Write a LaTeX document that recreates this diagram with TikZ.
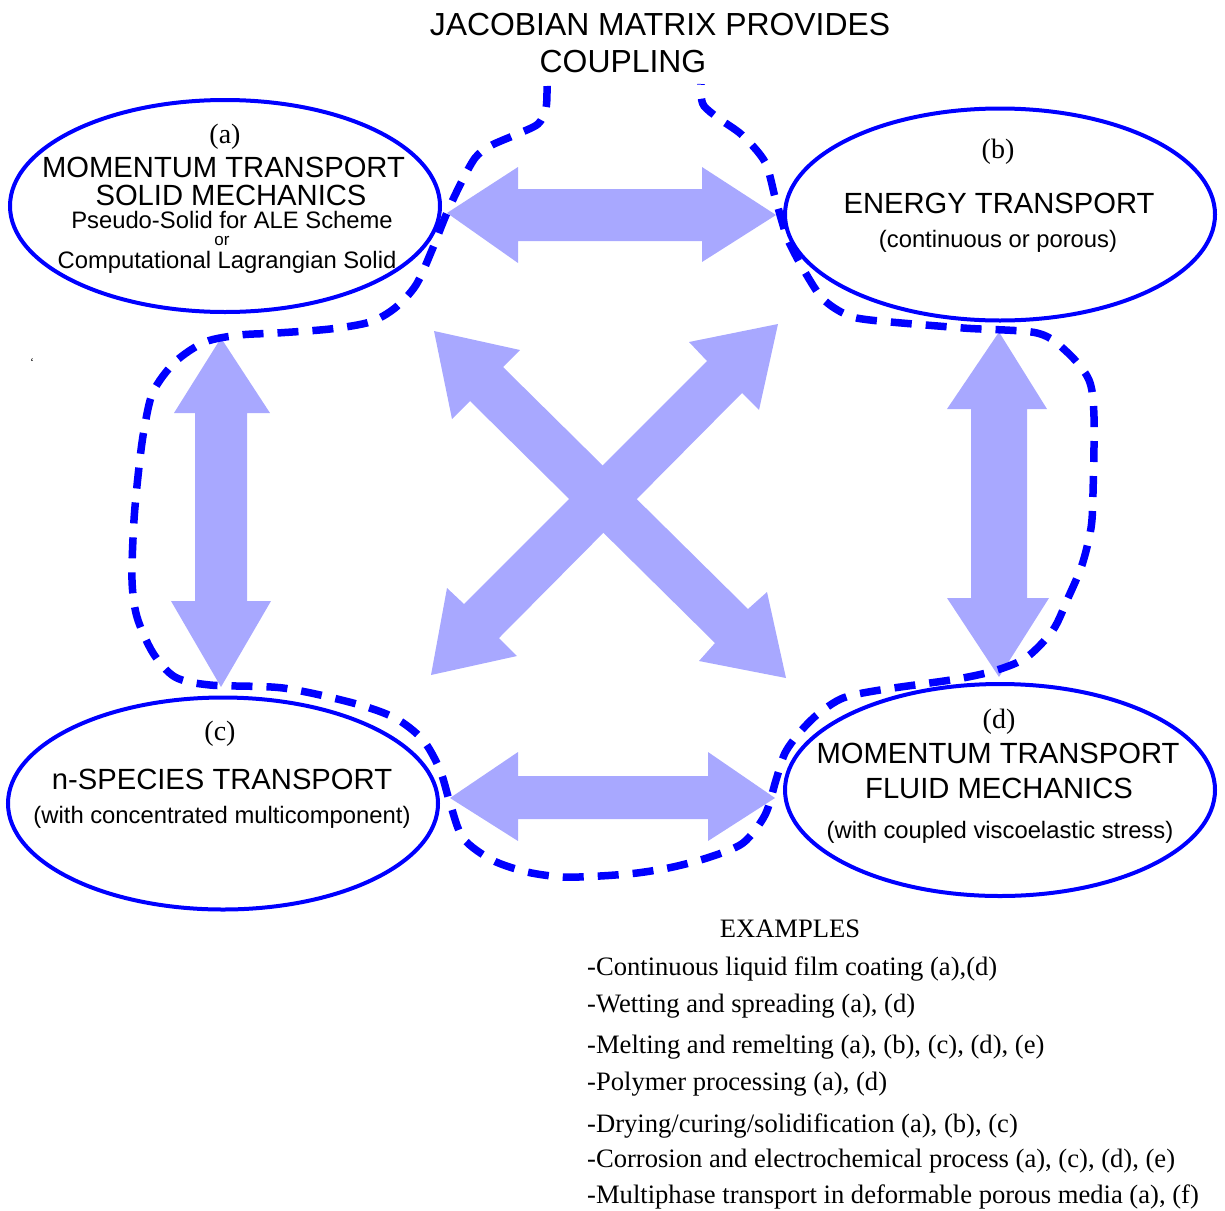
\documentclass[tikz,border=0pt]{standalone}
\usepackage{fontspec}
\setmainfont{Liberation Serif}
\setsansfont{Liberation Sans}
\usetikzlibrary{shapes.geometric}
\definecolor{arrfill}{RGB}{168,168,255}
\definecolor{ringblue}{RGB}{0,0,255}
\tikzset{
 ring/.style={draw=ringblue, line width=4pt, ellipse, minimum width=430pt, minimum height=212pt, inner sep=0pt},
 blk/.style={fill=arrfill, draw=none},
 loopline/.style={draw=ringblue, line width=7.5pt, dash pattern=on 21pt off 14pt},
 ttl/.style={font=\sffamily\fontsize{31.9}{34}\selectfont, anchor=base, inner sep=0pt},
 hd/.style={font=\sffamily\fontsize{29.2}{31}\selectfont, anchor=base, inner sep=0pt},
 sub/.style={font=\sffamily\fontsize{23.8}{26}\selectfont, anchor=base, inner sep=0pt},
 tiny/.style={font=\sffamily\fontsize{17}{18}\selectfont, anchor=base, inner sep=0pt},
 lbl/.style={font=\rmfamily\fontsize{28}{30}\selectfont, anchor=base, inner sep=0pt},
 ex/.style={font=\rmfamily\fontsize{26.6}{30}\selectfont, anchor=base west, inner sep=0pt},
 exh/.style={font=\rmfamily\fontsize{26.6}{30}\selectfont, anchor=base, inner sep=0pt},
}
\begin{document}
\begin{tikzpicture}[x=1pt,y=-1pt]
\useasboundingbox (0,0) rectangle (1225,1210);
% block arrows
\fill[blk] (447,213) -- (518,167) -- (518,189) -- (702,189) -- (702,167) -- (776,215) -- (702,262) -- (702,241) -- (518,241) -- (518,263) -- cycle;
\fill[blk] (450,798) -- (518,752) -- (518,776) -- (708,776) -- (708,752) -- (775,798) -- (708,841) -- (708,819) -- (518,819) -- (518,841) -- cycle;
\fill[blk] (221,338) -- (270,413) -- (247,413) -- (247,601) -- (271,601) -- (221,687) -- (171,601) -- (195,601) -- (195,413) -- (174,413) -- cycle;
\fill[blk] (999,332) -- (1047,409) -- (1027,409) -- (1027,598) -- (1049,598) -- (999,677) -- (947,598) -- (971,598) -- (971,409) -- (947,409) -- cycle;
\fill[blk] (434,331) -- (520,350) -- (503,367) -- (748,609) -- (767,592) -- (786,678) -- (699,661) -- (715,643) -- (470,401) -- (452,419) -- cycle;
\fill[blk] (778,324) -- (759,410) -- (742,393) -- (499,638) -- (517,656) -- (431,675) -- (447,588) -- (464,604) -- (707,361) -- (689,342) -- cycle;
% ellipses
\node[ring] (A) at (225,206) {};
\node[ring] (B) at (1000,214.5) {};
\node[ring] (C) at (223,803.5) {};
\node[ring] (D) at (1000,790) {};
% dashed coupling loop
\draw[loopline] plot[smooth, tension=0.5] coordinates {
 (547,86) (546,108) (538,124) (515,135) (490,146) (475,158) (460,185) (446,215) (432,250) (416,285) (395,308) (370,322)
 (330,329) (277,333) (240,335) (205,342) (175,362) (153,392) (144,430) (139,467) (134,520) (132,580) (137,617) (153,653)
 (175,677) (210,685) (283,688) (353,703) (395,718) (423,740) (440,770) (450,803) (463,838) (492,860) (527,872) (563,877)
 (600,876) (637,873) (673,867) (710,857) (743,843) (765,815) (776,780) (785,753) (800,732) (818,714) (843,698) (880,690)
 (957,679) (997,670) (1027,657) (1053,630) (1068,598) (1082,565) (1091,528) (1093,493) (1094,417) (1089,380) (1067,352)
 (1037,333) (963,328) (870,320) (845,314) (822,298) (802,267) (788,240) (783,225) (775,197) (765,162) (742,135) (718,118)
 (704,106) (701,95) (701,84)};
% title
\node[ttl] (t1) at (660,35) {JACOBIAN MATRIX PROVIDES};
\node[ttl] (t2) at (623,72) {COUPLING};
% (a)
\node[lbl] (la) at (225,143) {(a)};
\node[hd] (a1) at (223.5,177) {MOMENTUM TRANSPORT};
\node[hd] (a2) at (231,205) {SOLID MECHANICS};
\node[sub] (a3) at (232,228) {Pseudo-Solid for ALE Scheme};
\node[tiny] (a4) at (222,245) {or};
\node[sub] (a5) at (227,268) {Computational Lagrangian Solid};
% (b)
\node[lbl] (lb) at (998,158) {(b)};
\node[hd] (b1) at (999,213) {ENERGY TRANSPORT};
\node[sub] (b2) at (998,247) {(continuous or porous)};
% (c)
\node[lbl] (lc) at (220,740) {(c)};
\node[hd] (c1) at (222,789) {n-SPECIES TRANSPORT};
\node[sub] (c2) at (222,823) {(with concentrated multicomponent)};
% (d)
\node[lbl] (ld) at (999,728) {(d)};
\node[hd] (d1) at (998,763) {MOMENTUM TRANSPORT};
\node[hd] (d2) at (999,798) {FLUID MECHANICS};
\node[sub] (d3) at (1000,838) {(with coupled viscoelastic stress)};
% stray mark
\node[font=\rmfamily\fontsize{12}{12}\selectfont, inner sep=0pt] (tick) at (32,362) {`};
% examples
\node[exh] (exT) at (790,937) {EXAMPLES};
\node[ex] (e1) at (587,975) {-Continuous liquid film coating (a),(d)};
\node[ex] (e2) at (587,1012) {-Wetting and spreading (a), (d)};
\node[ex] (e3) at (587,1053) {-Melting and remelting (a), (b), (c), (d), (e)};
\node[ex] (e4) at (587,1090) {-Polymer processing (a), (d)};
\node[ex] (e5) at (587,1132) {-Drying/curing/solidification (a), (b), (c)};
\node[ex] (e6) at (587,1167) {-Corrosion and electrochemical process (a), (c), (d), (e)};
\node[ex] (e7) at (587,1203) {-Multiphase transport in deformable porous media (a), (f)};
\end{tikzpicture}
\end{document}
